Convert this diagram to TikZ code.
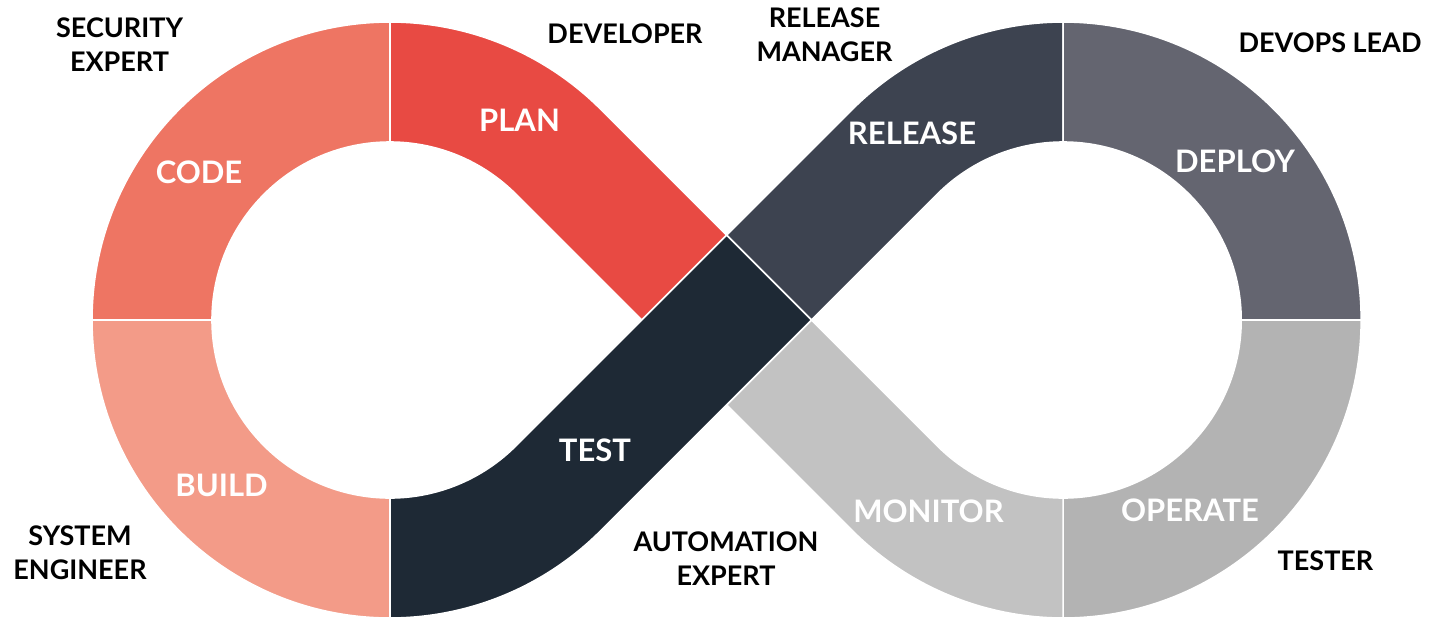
\documentclass[tikz,border=0pt]{standalone}
\usepackage{fontspec}
\setmainfont{Lato}
\usetikzlibrary{calc}
\definecolor{ccode}{HTML}{EE7563}
\definecolor{cplan}{HTML}{E84A43}
\definecolor{cbuild}{HTML}{F39B88}
\definecolor{ctest}{HTML}{1E2935}
\definecolor{crelease}{HTML}{3D4350}
\definecolor{cdeploy}{HTML}{646570}
\definecolor{coperate}{HTML}{B3B3B3}
\definecolor{cmonitor}{HTML}{C2C2C2}
\begin{document}
\begin{tikzpicture}[x=0.5pt,y=0.5pt,
  seg/.style={draw=white,line width=0.8pt},
  role/.style={font=\fontsize{13.5}{17}\selectfont\bfseries,text=black,align=center,inner sep=0pt},
  phase/.style={font=\fontsize{15.5}{18}\selectfont\bfseries,text=white,inner sep=0pt}]
\useasboundingbox (0,0) rectangle (1443,618);
\coordinate (L) at (390,298);
\coordinate (R) at (1063.17,298);
\coordinate (T) at (726.58,382.85);
\coordinate (Rc) at (811.43,298);
\coordinate (B) at (726.58,213.15);
\coordinate (Lc) at (641.73,298);
% left loop
\path[seg,fill=ccode] ($(L)+(90:298)$) arc[start angle=90,end angle=180,radius=298]
  -- ($(L)+(180:178)$) arc[start angle=180,end angle=90,radius=178] -- cycle;
\path[seg,fill=cbuild] ($(L)+(180:298)$) arc[start angle=180,end angle=270,radius=298]
  -- ($(L)+(270:178)$) arc[start angle=270,end angle=180,radius=178] -- cycle;
\path[seg,fill=cplan] ($(L)+(90:298)$) arc[start angle=90,end angle=45,radius=298]
  -- (T) -- (Lc) -- ($(L)+(45:178)$) arc[start angle=45,end angle=90,radius=178] -- cycle;
% right loop
\path[seg,fill=crelease] (T) -- ($(R)+(135:298)$) arc[start angle=135,end angle=90,radius=298]
  -- ($(R)+(90:178)$) arc[start angle=90,end angle=135,radius=178] -- (Rc) -- cycle;
\path[seg,fill=cdeploy] ($(R)+(90:298)$) arc[start angle=90,end angle=0,radius=298]
  -- ($(R)+(0:178)$) arc[start angle=0,end angle=90,radius=178] -- cycle;
\path[seg,fill=coperate] ($(R)+(0:298)$) arc[start angle=0,end angle=-90,radius=298]
  -- ($(R)+(-90:178)$) arc[start angle=-90,end angle=0,radius=178] -- cycle;
\path[seg,fill=cmonitor] (B) -- ($(R)+(225:298)$) arc[start angle=225,end angle=270,radius=298]
  -- ($(R)+(270:178)$) arc[start angle=270,end angle=225,radius=178] -- (Rc) -- cycle;
% test strip over the crossing
\path[seg,fill=ctest] ($(L)+(270:298)$) arc[start angle=270,end angle=315,radius=298]
  -- (Rc) -- (T) -- ($(L)+(315:178)$) arc[start angle=315,end angle=270,radius=178] -- cycle;
% phase labels
\node[phase] (code) at (199,446) {CODE};
\node[phase] (plan) at (519.5,498) {PLAN};
\node[phase] (release) at (912,484.5) {RELEASE};
\node[phase] (deploy) at (1235,456.5) {DEPLOY};
\node[phase] (build) at (221.5,133) {BUILD};
\node[phase] (test) at (595,168) {TEST};
\node[phase] (monitor) at (928.5,106.5) {MONITOR};
\node[phase] (operate) at (1190,107.5) {OPERATE};
% role labels
\node[role] (sec) at (119.5,573) {SECURITY\\EXPERT};
\node[role] (dev) at (625,584.5) {DEVELOPER};
\node[role] (relm) at (824.5,583.5) {RELEASE\\MANAGER};
\node[role] (devops) at (1330,575) {DEVOPS LEAD};
\node[role] (sys) at (80,65) {SYSTEM\\ENGINEER};
\node[role] (auto) at (726,59) {AUTOMATION\\EXPERT};
\node[role] (tester) at (1325.5,57) {TESTER};
\end{tikzpicture}
\end{document}
